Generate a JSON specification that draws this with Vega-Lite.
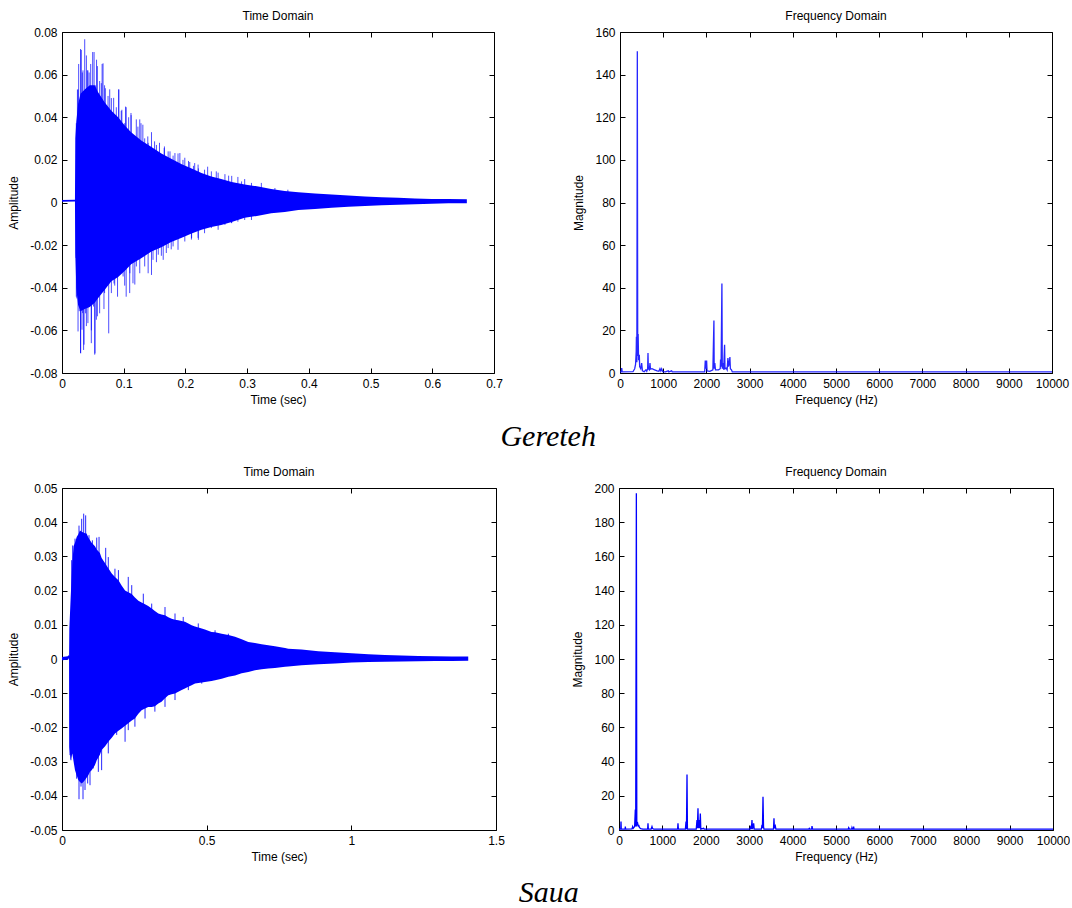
{
  "$schema": "https://vega.github.io/schema/vega-lite/v6.json",
  "background": "white",
  "padding": {"left": 7, "top": 10, "right": 0, "bottom": 0},
  "spacing": 14,
  "datasets": {
    "g_env": [
      {"t": 0, "hi": 0.0012, "lo": 0.0004},
      {"t": 0.021, "hi": 0.0013, "lo": 0.0005},
      {"t": 0.0216, "hi": 0.03, "lo": -0.024},
      {"t": 0.0232, "hi": 0.038, "lo": -0.04},
      {"t": 0.026, "hi": 0.046, "lo": -0.048},
      {"t": 0.03, "hi": 0.051, "lo": -0.051},
      {"t": 0.0368, "hi": 0.053, "lo": -0.05},
      {"t": 0.045, "hi": 0.055, "lo": -0.049},
      {"t": 0.053, "hi": 0.055, "lo": -0.047},
      {"t": 0.058, "hi": 0.052, "lo": -0.045},
      {"t": 0.069, "hi": 0.047, "lo": -0.041},
      {"t": 0.08, "hi": 0.043, "lo": -0.037},
      {"t": 0.091, "hi": 0.04, "lo": -0.035},
      {"t": 0.102, "hi": 0.036, "lo": -0.032},
      {"t": 0.112, "hi": 0.033, "lo": -0.029},
      {"t": 0.129, "hi": 0.029, "lo": -0.026},
      {"t": 0.145, "hi": 0.026, "lo": -0.023},
      {"t": 0.161, "hi": 0.023, "lo": -0.021},
      {"t": 0.177, "hi": 0.0205, "lo": -0.0185},
      {"t": 0.194, "hi": 0.018, "lo": -0.0165},
      {"t": 0.21, "hi": 0.016, "lo": -0.0145},
      {"t": 0.226, "hi": 0.0138, "lo": -0.0128},
      {"t": 0.242, "hi": 0.0122, "lo": -0.0115},
      {"t": 0.258, "hi": 0.011, "lo": -0.0105},
      {"t": 0.275, "hi": 0.0096, "lo": -0.0092},
      {"t": 0.296, "hi": 0.0085, "lo": -0.0072},
      {"t": 0.318, "hi": 0.0075, "lo": -0.0062},
      {"t": 0.339, "hi": 0.0063, "lo": -0.005},
      {"t": 0.361, "hi": 0.0054, "lo": -0.0044},
      {"t": 0.383, "hi": 0.0048, "lo": -0.0035},
      {"t": 0.41, "hi": 0.0042, "lo": -0.003},
      {"t": 0.437, "hi": 0.0037, "lo": -0.0025},
      {"t": 0.464, "hi": 0.0033, "lo": -0.002},
      {"t": 0.491, "hi": 0.0028, "lo": -0.0017},
      {"t": 0.518, "hi": 0.0025, "lo": -0.0013},
      {"t": 0.545, "hi": 0.0022, "lo": -0.001},
      {"t": 0.572, "hi": 0.0019, "lo": -0.0008},
      {"t": 0.599, "hi": 0.0017, "lo": -0.0006},
      {"t": 0.626, "hi": 0.0016, "lo": -0.0004},
      {"t": 0.656, "hi": 0.0015, "lo": -0.0003}
    ],
    "g_spk": [
      {"t": 0.0232, "v": 0.0372}, {"t": 0.025, "v": 0.053}, {"t": 0.026, "v": 0.053}, {"t": 0.027, "v": 0.065},
      {"t": 0.0276, "v": 0.0466}, {"t": 0.03, "v": 0.072}, {"t": 0.0313, "v": 0.0716}, {"t": 0.0329, "v": 0.061},
      {"t": 0.034, "v": 0.062}, {"t": 0.0368, "v": 0.0766}, {"t": 0.0395, "v": 0.069}, {"t": 0.041, "v": 0.062},
      {"t": 0.042, "v": 0.062}, {"t": 0.044, "v": 0.061}, {"t": 0.0465, "v": 0.065}, {"t": 0.0497, "v": 0.0706},
      {"t": 0.052, "v": 0.0706}, {"t": 0.054, "v": 0.055}, {"t": 0.056, "v": 0.067}, {"t": 0.0573, "v": 0.064},
      {"t": 0.061, "v": 0.057}, {"t": 0.0637, "v": 0.056}, {"t": 0.065, "v": 0.065}, {"t": 0.0665, "v": 0.0653},
      {"t": 0.069, "v": 0.055}, {"t": 0.0702, "v": 0.0536}, {"t": 0.0746, "v": 0.05}, {"t": 0.0773, "v": 0.0531},
      {"t": 0.08, "v": 0.049}, {"t": 0.0837, "v": 0.0491}, {"t": 0.088, "v": 0.0447}, {"t": 0.0919, "v": 0.0531},
      {"t": 0.092, "v": 0.053}, {"t": 0.096, "v": 0.043}, {"t": 0.097, "v": 0.0435}, {"t": 0.1016, "v": 0.0372},
      {"t": 0.103, "v": 0.045}, {"t": 0.104, "v": 0.0447}, {"t": 0.108, "v": 0.04}, {"t": 0.1118, "v": 0.042},
      {"t": 0.112, "v": 0.041}, {"t": 0.115, "v": 0.0309}, {"t": 0.1204, "v": 0.039}, {"t": 0.123, "v": 0.0356},
      {"t": 0.126, "v": 0.039}, {"t": 0.128, "v": 0.0372}, {"t": 0.131, "v": 0.0365}, {"t": 0.134, "v": 0.0301},
      {"t": 0.139, "v": 0.031}, {"t": 0.1396, "v": 0.028}, {"t": 0.145, "v": 0.033}, {"t": 0.15, "v": 0.0287},
      {"t": 0.153, "v": 0.027}, {"t": 0.158, "v": 0.028}, {"t": 0.1656, "v": 0.0255}, {"t": 0.166, "v": 0.0263},
      {"t": 0.172, "v": 0.024}, {"t": 0.175, "v": 0.024}, {"t": 0.18, "v": 0.022}, {"t": 0.183, "v": 0.0232},
      {"t": 0.188, "v": 0.023}, {"t": 0.191, "v": 0.0232}, {"t": 0.196, "v": 0.02}, {"t": 0.199, "v": 0.021},
      {"t": 0.205, "v": 0.0195}, {"t": 0.207, "v": 0.019}, {"t": 0.213, "v": 0.0172}, {"t": 0.215, "v": 0.0185},
      {"t": 0.2205, "v": 0.0178}, {"t": 0.221, "v": 0.016}, {"t": 0.231, "v": 0.0154}, {"t": 0.236, "v": 0.0168},
      {"t": 0.242, "v": 0.0146}, {"t": 0.25, "v": 0.0146}, {"t": 0.253, "v": 0.014}, {"t": 0.264, "v": 0.0133},
      {"t": 0.27, "v": 0.0126}, {"t": 0.275, "v": 0.0125}, {"t": 0.285, "v": 0.012}, {"t": 0.291, "v": 0.0099},
      {"t": 0.296, "v": 0.011}, {"t": 0.307, "v": 0.0092}, {"t": 0.323, "v": 0.0092}, {"t": 0.345, "v": 0.0068},
      {"t": 0.366, "v": 0.006},
      {"t": 0.0227, "v": -0.026}, {"t": 0.0232, "v": -0.0442}, {"t": 0.024, "v": -0.045}, {"t": 0.026, "v": -0.0605},
      {"t": 0.028, "v": -0.051}, {"t": 0.03, "v": -0.0706}, {"t": 0.0303, "v": -0.0708}, {"t": 0.0324, "v": -0.0597},
      {"t": 0.0335, "v": -0.0519}, {"t": 0.035, "v": -0.0692}, {"t": 0.0357, "v": -0.0667}, {"t": 0.0383, "v": -0.052},
      {"t": 0.0395, "v": -0.058}, {"t": 0.042, "v": -0.0566}, {"t": 0.0475, "v": -0.066}, {"t": 0.0476, "v": -0.06},
      {"t": 0.051, "v": -0.0488}, {"t": 0.053, "v": -0.0714}, {"t": 0.0535, "v": -0.0708}, {"t": 0.0557, "v": -0.055},
      {"t": 0.0573, "v": -0.0534}, {"t": 0.061, "v": -0.052}, {"t": 0.0648, "v": -0.0394}, {"t": 0.068, "v": -0.05},
      {"t": 0.069, "v": -0.0425}, {"t": 0.0757, "v": -0.0614}, {"t": 0.08, "v": -0.0425}, {"t": 0.0843, "v": -0.038},
      {"t": 0.0854, "v": -0.039}, {"t": 0.09, "v": -0.0442}, {"t": 0.0935, "v": -0.0332}, {"t": 0.099, "v": -0.0347},
      {"t": 0.1016, "v": -0.039}, {"t": 0.104, "v": -0.0442}, {"t": 0.1097, "v": -0.0425}, {"t": 0.11, "v": -0.0332},
      {"t": 0.115, "v": -0.0379}, {"t": 0.118, "v": -0.0385}, {"t": 0.1205, "v": -0.03}, {"t": 0.126, "v": -0.0332},
      {"t": 0.134, "v": -0.03}, {"t": 0.1396, "v": -0.0332}, {"t": 0.145, "v": -0.034}, {"t": 0.1475, "v": -0.0269},
      {"t": 0.153, "v": -0.028}, {"t": 0.156, "v": -0.0245}, {"t": 0.161, "v": -0.025}, {"t": 0.164, "v": -0.0269},
      {"t": 0.169, "v": -0.0237}, {"t": 0.172, "v": -0.0214}, {"t": 0.177, "v": -0.022}, {"t": 0.18, "v": -0.0206},
      {"t": 0.188, "v": -0.0222}, {"t": 0.199, "v": -0.0183}, {"t": 0.2097, "v": -0.0174}, {"t": 0.21, "v": -0.0167},
      {"t": 0.2205, "v": -0.0166}, {"t": 0.221, "v": -0.0175}, {"t": 0.231, "v": -0.0144}, {"t": 0.242, "v": -0.012},
      {"t": 0.253, "v": -0.0128}, {"t": 0.264, "v": -0.0105}, {"t": 0.2746, "v": -0.0096}, {"t": 0.275, "v": -0.0097},
      {"t": 0.285, "v": -0.009}, {"t": 0.296, "v": -0.0082}, {"t": 0.307, "v": -0.0082}
    ],
    "g_fft": [
      {"f": 0, "m": 0.5}, {"f": 30, "m": 0.5}, {"f": 40, "m": 2.3}, {"f": 50, "m": 0.5},
      {"f": 300, "m": 0.6}, {"f": 340, "m": 2}, {"f": 360, "m": 4}, {"f": 375, "m": 10},
      {"f": 380, "m": 17}, {"f": 390, "m": 5}, {"f": 401, "m": 151}, {"f": 410, "m": 8},
      {"f": 420, "m": 18.3}, {"f": 430, "m": 6}, {"f": 447, "m": 8.6}, {"f": 455, "m": 3},
      {"f": 480, "m": 2}, {"f": 501, "m": 4.7}, {"f": 520, "m": 1}, {"f": 560, "m": 0.6},
      {"f": 600, "m": 1.5}, {"f": 620, "m": 0.8}, {"f": 640, "m": 2}, {"f": 648, "m": 9.4},
      {"f": 656, "m": 2}, {"f": 680, "m": 1.5}, {"f": 694, "m": 4.7}, {"f": 705, "m": 1.8},
      {"f": 740, "m": 2}, {"f": 800, "m": 1.5}, {"f": 860, "m": 1}, {"f": 900, "m": 0.8},
      {"f": 925, "m": 2}, {"f": 945, "m": 1}, {"f": 964, "m": 2}, {"f": 990, "m": 0.6},
      {"f": 1050, "m": 0.5}, {"f": 1118, "m": 1}, {"f": 1130, "m": 0.5}, {"f": 1195, "m": 1},
      {"f": 1210, "m": 0.5}, {"f": 1500, "m": 0.5}, {"f": 1960, "m": 0.5}, {"f": 1974, "m": 5.8},
      {"f": 1985, "m": 2}, {"f": 2005, "m": 5.8}, {"f": 2015, "m": 1}, {"f": 2080, "m": 0.8},
      {"f": 2150, "m": 1.5}, {"f": 2174, "m": 24.6}, {"f": 2180, "m": 2}, {"f": 2195, "m": 4.7},
      {"f": 2210, "m": 1.5}, {"f": 2280, "m": 1.5}, {"f": 2320, "m": 2}, {"f": 2328, "m": 6.3},
      {"f": 2340, "m": 3}, {"f": 2359, "m": 42}, {"f": 2368, "m": 2}, {"f": 2385, "m": 4.7},
      {"f": 2400, "m": 1.5}, {"f": 2421, "m": 13.3}, {"f": 2430, "m": 2}, {"f": 2460, "m": 2.3},
      {"f": 2480, "m": 1.5}, {"f": 2498, "m": 7}, {"f": 2510, "m": 3}, {"f": 2525, "m": 4},
      {"f": 2544, "m": 7.5}, {"f": 2555, "m": 2}, {"f": 2580, "m": 1.5}, {"f": 2600, "m": 0.5},
      {"f": 3000, "m": 0.5}, {"f": 10000, "m": 0.5}
    ],
    "s_env": [
      {"t": 0, "hi": 0.0006, "lo": -0.0004},
      {"t": 0.02, "hi": 0.0008, "lo": -0.0002},
      {"t": 0.022, "hi": 0.0012, "lo": 0.0002},
      {"t": 0.0245, "hi": 0.0008, "lo": -0.0004},
      {"t": 0.0253, "hi": 0.0088, "lo": -0.0257},
      {"t": 0.03, "hi": 0.018, "lo": -0.0295},
      {"t": 0.0357, "hi": 0.028, "lo": -0.0276},
      {"t": 0.04, "hi": 0.033, "lo": -0.03},
      {"t": 0.045, "hi": 0.034, "lo": -0.0325},
      {"t": 0.0507, "hi": 0.0357, "lo": -0.034},
      {"t": 0.0565, "hi": 0.0365, "lo": -0.0354},
      {"t": 0.062, "hi": 0.0376, "lo": -0.036},
      {"t": 0.068, "hi": 0.0372, "lo": -0.0364},
      {"t": 0.0737, "hi": 0.037, "lo": -0.036},
      {"t": 0.0795, "hi": 0.0368, "lo": -0.0354},
      {"t": 0.085, "hi": 0.0367, "lo": -0.0347},
      {"t": 0.091, "hi": 0.0355, "lo": -0.034},
      {"t": 0.0968, "hi": 0.0347, "lo": -0.033},
      {"t": 0.1025, "hi": 0.034, "lo": -0.0325},
      {"t": 0.114, "hi": 0.033, "lo": -0.031},
      {"t": 0.12, "hi": 0.032, "lo": -0.0296},
      {"t": 0.131, "hi": 0.031, "lo": -0.028},
      {"t": 0.137, "hi": 0.0295, "lo": -0.0266},
      {"t": 0.149, "hi": 0.028, "lo": -0.0255},
      {"t": 0.16, "hi": 0.0265, "lo": -0.0242},
      {"t": 0.172, "hi": 0.025, "lo": -0.023},
      {"t": 0.183, "hi": 0.024, "lo": -0.0218},
      {"t": 0.195, "hi": 0.023, "lo": -0.021},
      {"t": 0.206, "hi": 0.0215, "lo": -0.0203},
      {"t": 0.218, "hi": 0.02, "lo": -0.0195},
      {"t": 0.229, "hi": 0.0195, "lo": -0.0188},
      {"t": 0.241, "hi": 0.019, "lo": -0.018},
      {"t": 0.252, "hi": 0.018, "lo": -0.0174},
      {"t": 0.264, "hi": 0.017, "lo": -0.016},
      {"t": 0.275, "hi": 0.0165, "lo": -0.015},
      {"t": 0.287, "hi": 0.016, "lo": -0.0145},
      {"t": 0.298, "hi": 0.0155, "lo": -0.014},
      {"t": 0.31, "hi": 0.0148, "lo": -0.014},
      {"t": 0.321, "hi": 0.014, "lo": -0.0138},
      {"t": 0.333, "hi": 0.0133, "lo": -0.013},
      {"t": 0.344, "hi": 0.013, "lo": -0.0125},
      {"t": 0.356, "hi": 0.0128, "lo": -0.0115},
      {"t": 0.3675, "hi": 0.0122, "lo": -0.0106},
      {"t": 0.379, "hi": 0.0118, "lo": -0.0103},
      {"t": 0.3906, "hi": 0.0115, "lo": -0.0101},
      {"t": 0.402, "hi": 0.0113, "lo": -0.0096},
      {"t": 0.4136, "hi": 0.0111, "lo": -0.0091},
      {"t": 0.425, "hi": 0.0109, "lo": -0.0086},
      {"t": 0.4366, "hi": 0.0104, "lo": -0.0081},
      {"t": 0.448, "hi": 0.0099, "lo": -0.0077},
      {"t": 0.4597, "hi": 0.0095, "lo": -0.0072},
      {"t": 0.483, "hi": 0.0089, "lo": -0.0069},
      {"t": 0.494, "hi": 0.0086, "lo": -0.0067},
      {"t": 0.517, "hi": 0.0079, "lo": -0.0064},
      {"t": 0.529, "hi": 0.0078, "lo": -0.0062},
      {"t": 0.552, "hi": 0.0074, "lo": -0.0058},
      {"t": 0.575, "hi": 0.007, "lo": -0.0052},
      {"t": 0.598, "hi": 0.0065, "lo": -0.0048},
      {"t": 0.621, "hi": 0.0058, "lo": -0.0042},
      {"t": 0.644, "hi": 0.005, "lo": -0.0038},
      {"t": 0.667, "hi": 0.0047, "lo": -0.0033},
      {"t": 0.69, "hi": 0.0043, "lo": -0.003},
      {"t": 0.713, "hi": 0.004, "lo": -0.0028},
      {"t": 0.736, "hi": 0.0037, "lo": -0.0026},
      {"t": 0.771, "hi": 0.0032, "lo": -0.0023},
      {"t": 0.782, "hi": 0.003, "lo": -0.0022},
      {"t": 0.828, "hi": 0.0028, "lo": -0.0018},
      {"t": 0.886, "hi": 0.0023, "lo": -0.0015},
      {"t": 0.9435, "hi": 0.002, "lo": -0.0013},
      {"t": 1.001, "hi": 0.0017, "lo": -0.001},
      {"t": 1.059, "hi": 0.0014, "lo": -0.0009},
      {"t": 1.116, "hi": 0.0012, "lo": -0.0008},
      {"t": 1.174, "hi": 0.001, "lo": -0.0007},
      {"t": 1.2316, "hi": 0.0009, "lo": -0.00065},
      {"t": 1.289, "hi": 0.0008, "lo": -0.0006},
      {"t": 1.347, "hi": 0.0007, "lo": -0.00055},
      {"t": 1.404, "hi": 0.0007, "lo": -0.0005}
    ],
    "s_spk": [
      {"t": 0.0334, "v": 0.0289}, {"t": 0.0369, "v": 0.0332}, {"t": 0.045, "v": 0.0352},
      {"t": 0.0588, "v": 0.039}, {"t": 0.068, "v": 0.041}, {"t": 0.075, "v": 0.0425},
      {"t": 0.0818, "v": 0.042}, {"t": 0.0933, "v": 0.0362}, {"t": 0.105, "v": 0.0347},
      {"t": 0.12, "v": 0.0355}, {"t": 0.128, "v": 0.0357}, {"t": 0.135, "v": 0.0289},
      {"t": 0.151, "v": 0.0325}, {"t": 0.16, "v": 0.0298}, {"t": 0.183, "v": 0.0264},
      {"t": 0.195, "v": 0.026}, {"t": 0.229, "v": 0.024}, {"t": 0.241, "v": 0.0216},
      {"t": 0.281, "v": 0.0191}, {"t": 0.31, "v": 0.0162}, {"t": 0.356, "v": 0.0152},
      {"t": 0.3906, "v": 0.0133}, {"t": 0.419, "v": 0.0123}, {"t": 0.471, "v": 0.0104},
      {"t": 0.529, "v": 0.0084}, {"t": 0.575, "v": 0.0074},
      {"t": 0.0276, "v": -0.0281}, {"t": 0.031, "v": -0.0296}, {"t": 0.039, "v": -0.0276},
      {"t": 0.0507, "v": -0.035}, {"t": 0.0588, "v": -0.041}, {"t": 0.0657, "v": -0.0373},
      {"t": 0.0726, "v": -0.041}, {"t": 0.0795, "v": -0.0383}, {"t": 0.0887, "v": -0.0364},
      {"t": 0.0968, "v": -0.0369}, {"t": 0.108, "v": -0.032}, {"t": 0.1256, "v": -0.033},
      {"t": 0.137, "v": -0.0325}, {"t": 0.16, "v": -0.0276}, {"t": 0.189, "v": -0.0222},
      {"t": 0.218, "v": -0.0242}, {"t": 0.229, "v": -0.0208}, {"t": 0.252, "v": -0.0198},
      {"t": 0.287, "v": -0.0174}, {"t": 0.321, "v": -0.0154}, {"t": 0.356, "v": -0.014},
      {"t": 0.3906, "v": -0.012}, {"t": 0.4366, "v": -0.0091}, {"t": 0.483, "v": -0.0072}
    ],
    "s_fft": [
      {"f": 0, "m": 0.5}, {"f": 40, "m": 0.5}, {"f": 46, "m": 4.9}, {"f": 52, "m": 0.5},
      {"f": 140, "m": 0.5}, {"f": 146, "m": 2}, {"f": 152, "m": 0.5}, {"f": 300, "m": 0.6},
      {"f": 315, "m": 2}, {"f": 330, "m": 1}, {"f": 360, "m": 2}, {"f": 376, "m": 12},
      {"f": 385, "m": 2}, {"f": 400, "m": 197}, {"f": 410, "m": 3}, {"f": 430, "m": 3.9},
      {"f": 445, "m": 2}, {"f": 453, "m": 3}, {"f": 470, "m": 1.5}, {"f": 500, "m": 0.8},
      {"f": 550, "m": 0.5}, {"f": 660, "m": 0.5}, {"f": 668, "m": 3.9}, {"f": 676, "m": 0.5},
      {"f": 740, "m": 0.5}, {"f": 760, "m": 2}, {"f": 775, "m": 0.8}, {"f": 800, "m": 0.5},
      {"f": 1350, "m": 0.5}, {"f": 1359, "m": 3.9}, {"f": 1368, "m": 0.5}, {"f": 1530, "m": 0.5},
      {"f": 1544, "m": 4.9}, {"f": 1555, "m": 0.5}, {"f": 1567, "m": 32.5}, {"f": 1577, "m": 0.5},
      {"f": 1780, "m": 0.5}, {"f": 1797, "m": 5.8}, {"f": 1805, "m": 1}, {"f": 1820, "m": 12.7},
      {"f": 1830, "m": 1}, {"f": 1850, "m": 5.8}, {"f": 1860, "m": 1}, {"f": 1874, "m": 9.7},
      {"f": 1885, "m": 0.5}, {"f": 1950, "m": 1}, {"f": 1965, "m": 0.5}, {"f": 3020, "m": 0.5},
      {"f": 3041, "m": 2.5}, {"f": 3050, "m": 0.5}, {"f": 3064, "m": 5.8}, {"f": 3075, "m": 0.5},
      {"f": 3103, "m": 3.9}, {"f": 3115, "m": 0.5}, {"f": 3280, "m": 0.5}, {"f": 3295, "m": 3},
      {"f": 3305, "m": 1}, {"f": 3318, "m": 19.5}, {"f": 3330, "m": 2}, {"f": 3340, "m": 0.5},
      {"f": 3560, "m": 0.5}, {"f": 3571, "m": 6.8}, {"f": 3580, "m": 1}, {"f": 3602, "m": 2.3},
      {"f": 3615, "m": 0.5}, {"f": 4370, "m": 0.5}, {"f": 4385, "m": 1}, {"f": 4400, "m": 0.5},
      {"f": 4440, "m": 0.5}, {"f": 4447, "m": 2.3}, {"f": 4460, "m": 0.5}, {"f": 5280, "m": 0.5},
      {"f": 5292, "m": 1.4}, {"f": 5310, "m": 0.5}, {"f": 5360, "m": 0.5}, {"f": 5368, "m": 1.4},
      {"f": 5380, "m": 0.5}, {"f": 5400, "m": 0.5}, {"f": 5407, "m": 2}, {"f": 5415, "m": 0.5},
      {"f": 10000, "m": 0.5}
    ]
  },
  "vconcat": [
    {
      "spacing": 69,
      "title": {"text": "Gereteh", "orient": "bottom", "anchor": "middle", "dx": 10, "font": "Liberation Serif", "fontStyle": "italic", "fontWeight": "normal", "fontSize": 30, "color": "#000", "offset": 17},
      "hconcat": [
        {
          "width": 432, "height": 341,
          "title": {"text": "Time Domain"},
          "layer": [
            {
              "data": {"name": "g_env"},
              "mark": {"type": "area", "color": "#0000ff"},
              "encoding": {
                "x": {"field": "t", "type": "quantitative", "scale": {"domain": [0, 0.7], "nice": false, "zero": false},
                      "axis": {"title": "Time (sec)", "values": [0, 0.1, 0.2, 0.3, 0.4, 0.5, 0.6, 0.7], "labelExpr": "'' + datum.value"}},
                "y": {"field": "hi", "type": "quantitative", "scale": {"domain": [-0.08, 0.08], "nice": false},
                      "axis": {"title": "Amplitude", "values": [-0.08, -0.06, -0.04, -0.02, 0, 0.02, 0.04, 0.06, 0.08], "labelExpr": "'' + datum.value"}},
                "y2": {"field": "lo"}
              }
            },
            {
              "data": {"name": "g_spk"},
              "mark": {"type": "rule", "color": "#0000ff", "opacity": 0.7, "strokeWidth": 1},
              "encoding": {
                "x": {"field": "t", "type": "quantitative", "axis": {"orient": "top", "title": null, "labels": false, "values": [0, 0.1, 0.2, 0.3, 0.4, 0.5, 0.6, 0.7]}},
                "y": {"field": "v", "type": "quantitative", "axis": {"orient": "right", "title": null, "labels": false, "values": [-0.08, -0.06, -0.04, -0.02, 0, 0.02, 0.04, 0.06, 0.08]}},
                "y2": {"datum": 0}
              }
            }
          ],
          "resolve": {"axis": {"x": "independent", "y": "independent"}}
        },
        {
          "width": 432, "height": 341,
          "title": {"text": "Frequency Domain"},
          "data": {"name": "g_fft"},
          "layer": [
            {
              "mark": {"type": "line", "color": "#0000ff", "strokeWidth": 1.3, "opacity": 0.85},
              "encoding": {
                "x": {"field": "f", "type": "quantitative", "scale": {"domain": [0, 10000], "nice": false},
                      "axis": {"title": "Frequency (Hz)", "values": [0, 1000, 2000, 3000, 4000, 5000, 6000, 7000, 8000, 9000, 10000], "labelExpr": "'' + datum.value"}},
                "y": {"field": "m", "type": "quantitative", "scale": {"domain": [0, 160], "nice": false},
                      "axis": {"title": "Magnitude", "values": [0, 20, 40, 60, 80, 100, 120, 140, 160], "labelExpr": "'' + datum.value"}}
              }
            },
            {
              "mark": {"type": "point", "opacity": 0},
              "encoding": {
                "x": {"field": "f", "type": "quantitative", "axis": {"orient": "top", "title": null, "labels": false, "values": [0, 1000, 2000, 3000, 4000, 5000, 6000, 7000, 8000, 9000, 10000]}},
                "y": {"field": "m", "type": "quantitative", "axis": {"orient": "right", "title": null, "labels": false, "values": [0, 20, 40, 60, 80, 100, 120, 140, 160]}}
              }
            }
          ],
          "resolve": {"axis": {"x": "independent", "y": "independent"}}
        }
      ]
    },
    {
      "spacing": 66,
      "title": {"text": "Saua", "orient": "bottom", "anchor": "middle", "dx": 10, "font": "Liberation Serif", "fontStyle": "italic", "fontWeight": "normal", "fontSize": 30, "color": "#000", "offset": 16},
      "hconcat": [
        {
          "width": 434, "height": 342,
          "title": {"text": "Time Domain"},
          "layer": [
            {
              "data": {"name": "s_env"},
              "mark": {"type": "area", "color": "#0000ff"},
              "encoding": {
                "x": {"field": "t", "type": "quantitative", "scale": {"domain": [0, 1.5], "nice": false, "zero": false},
                      "axis": {"title": "Time (sec)", "values": [0, 0.5, 1, 1.5], "labelExpr": "'' + datum.value"}},
                "y": {"field": "hi", "type": "quantitative", "scale": {"domain": [-0.05, 0.05], "nice": false},
                      "axis": {"title": "Amplitude", "values": [-0.05, -0.04, -0.03, -0.02, -0.01, 0, 0.01, 0.02, 0.03, 0.04, 0.05], "labelExpr": "'' + datum.value"}},
                "y2": {"field": "lo"}
              }
            },
            {
              "data": {"name": "s_spk"},
              "mark": {"type": "rule", "color": "#0000ff", "opacity": 0.85, "strokeWidth": 1},
              "encoding": {
                "x": {"field": "t", "type": "quantitative", "axis": {"orient": "top", "title": null, "labels": false, "values": [0, 0.5, 1, 1.5]}},
                "y": {"field": "v", "type": "quantitative", "axis": {"orient": "right", "title": null, "labels": false, "values": [-0.05, -0.04, -0.03, -0.02, -0.01, 0, 0.01, 0.02, 0.03, 0.04, 0.05]}},
                "y2": {"datum": 0}
              }
            }
          ],
          "resolve": {"axis": {"x": "independent", "y": "independent"}}
        },
        {
          "width": 434, "height": 342,
          "title": {"text": "Frequency Domain"},
          "data": {"name": "s_fft"},
          "layer": [
            {
              "mark": {"type": "line", "color": "#0000ff", "strokeWidth": 1.3},
              "encoding": {
                "x": {"field": "f", "type": "quantitative", "scale": {"domain": [0, 10000], "nice": false},
                      "axis": {"title": "Frequency (Hz)", "values": [0, 1000, 2000, 3000, 4000, 5000, 6000, 7000, 8000, 9000, 10000], "labelExpr": "'' + datum.value"}},
                "y": {"field": "m", "type": "quantitative", "scale": {"domain": [0, 200], "nice": false},
                      "axis": {"title": "Magnitude", "values": [0, 20, 40, 60, 80, 100, 120, 140, 160, 180, 200], "labelExpr": "'' + datum.value"}}
              }
            },
            {
              "mark": {"type": "point", "opacity": 0},
              "encoding": {
                "x": {"field": "f", "type": "quantitative", "axis": {"orient": "top", "title": null, "labels": false, "values": [0, 1000, 2000, 3000, 4000, 5000, 6000, 7000, 8000, 9000, 10000]}},
                "y": {"field": "m", "type": "quantitative", "axis": {"orient": "right", "title": null, "labels": false, "values": [0, 20, 40, 60, 80, 100, 120, 140, 160, 180, 200]}}
              }
            }
          ],
          "resolve": {"axis": {"x": "independent", "y": "independent"}}
        }
      ]
    }
  ],
  "config": {
    "view": {"stroke": null},
    "font": "Liberation Sans",
    "title": {"font": "Liberation Sans", "fontSize": 12, "fontWeight": "normal", "color": "#000", "offset": 3},
    "axis": {
      "labelFont": "Liberation Sans", "labelFontSize": 12, "labelColor": "#000",
      "titleFont": "Liberation Sans", "titleFontSize": 12, "titleFontWeight": "normal", "titleColor": "#000",
      "domainColor": "#000", "domainWidth": 1, "tickColor": "#000", "tickWidth": 1, "tickSize": -5,
      "labelPadding": 5, "titlePadding": 6, "grid": false, "labelFlush": false, "labelOverlap": false, "labelBound": false
    },
    "axisLeft": {"labelPadding": 10, "titlePadding": 9},
    "axisBottom": {"labelPadding": 10, "titlePadding": 5}
  }
}
